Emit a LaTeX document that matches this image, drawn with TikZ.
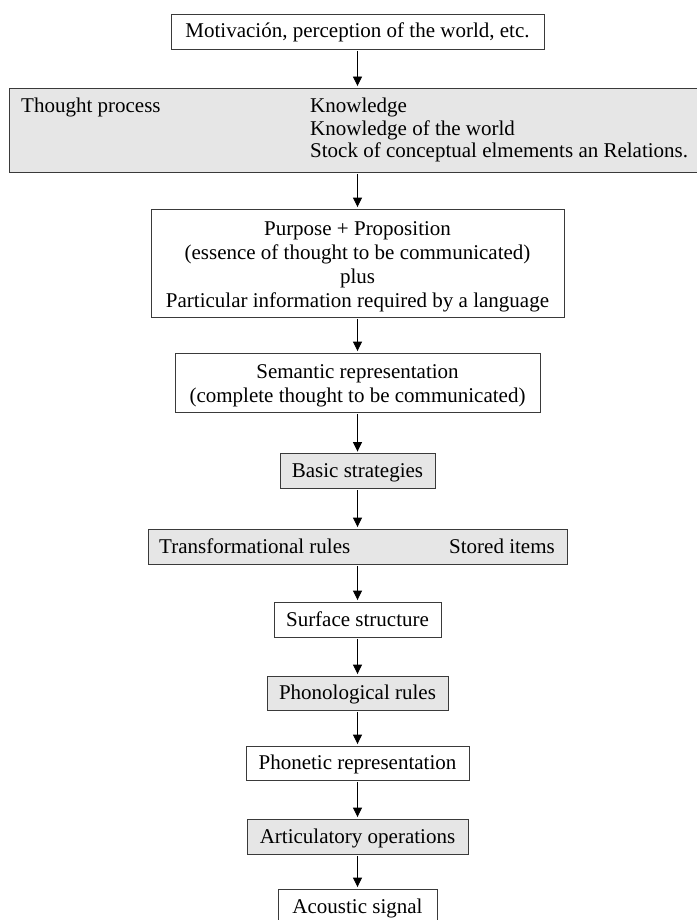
\documentclass[tikz,border=0pt]{standalone}
\usepackage{fontspec}
\setmainfont{Liberation Serif}
\usetikzlibrary{arrows.meta}
\definecolor{boxgrey}{HTML}{E6E6E6}
\definecolor{edge}{HTML}{3A3A3A}
\begin{document}
\begin{tikzpicture}[x=1pt,y=-1pt,
  every node/.style={font=\fontsize{21}{24}\selectfont, text=black},
  stepbox/.style={draw=edge, line width=0.9pt, fill=white, inner sep=0pt, align=center},
  greybox/.style={stepbox, fill=boxgrey},
  oneline/.style={text height=15pt, text depth=2pt},
  txt/.style={inner sep=0pt},
  flow/.style={draw=black, line width=0.9pt, shorten <=1.5pt, shorten >=1.5pt, -{Triangle[length=9.5pt,width=9pt]}}
]
\useasboundingbox (0,0) rectangle (696,920);

\node[stepbox, oneline, minimum width=373, minimum height=35] (top) at (357.5,31.5) {Motivación, perception of the world, etc.};

\node[greybox, minimum width=700, minimum height=84] (thought) at (359,130) {};
\node[txt, anchor=base west] (tp) at (21,113) {Thought process};
\node[txt, anchor=base west] (k1) at (310,113) {Knowledge};
\node[txt, anchor=base west] (k2) at (310,135.5) {Knowledge of the world};
\node[txt, anchor=base west] (k3) at (310,158) {Stock of conceptual elmements an Relations.};

\node[stepbox, minimum width=413, minimum height=108] (purpose) at (357.5,263) {};
\node[txt, align=center] (purposetext) at (357.5,267) {Purpose + Proposition\\(essence of thought to be communicated)\\plus\\Particular information required by a language};

\node[stepbox, minimum width=365, minimum height=59] (semantic) at (357.5,382.5) {};
\node[txt, align=center] (semantictext) at (357.5,386) {Semantic representation\\(complete thought to be communicated)};

\node[greybox, oneline, minimum width=155, minimum height=35] (basic) at (357.5,471) {Basic strategies};

\node[greybox, minimum width=419, minimum height=35] (trans) at (357.5,546.5) {};
\node[txt, oneline, anchor=west] (tr) at (159,546.5) {Transformational rules};
\node[txt, oneline, anchor=east] (st) at (555,546.5) {Stored items};

\node[stepbox, oneline, minimum width=167, minimum height=35] (surface) at (357.5,619.5) {Surface structure};
\node[greybox, oneline, minimum width=181, minimum height=34] (phono) at (357.5,693) {Phonological rules};
\node[stepbox, oneline, minimum width=223, minimum height=34] (phonetic) at (357.5,763) {Phonetic representation};
\node[greybox, oneline, minimum width=221, minimum height=35] (artic) at (357.5,836.5) {Articulatory operations};
\node[stepbox, oneline, minimum width=159, minimum height=35] (acoustic) at (357.5,906.5) {Acoustic signal};

\draw[flow] (top.south) -- (top.south |- thought.north);
\draw[flow] (top.south |- thought.south) -- (purpose.north);
\draw[flow] (purpose.south) -- (semantic.north);
\draw[flow] (semantic.south) -- (basic.north);
\draw[flow] (basic.south) -- (trans.north);
\draw[flow] (trans.south) -- (surface.north);
\draw[flow] (surface.south) -- (phono.north);
\draw[flow] (phono.south) -- (phonetic.north);
\draw[flow] (phonetic.south) -- (artic.north);
\draw[flow] (artic.south) -- (acoustic.north);
\end{tikzpicture}
\end{document}
